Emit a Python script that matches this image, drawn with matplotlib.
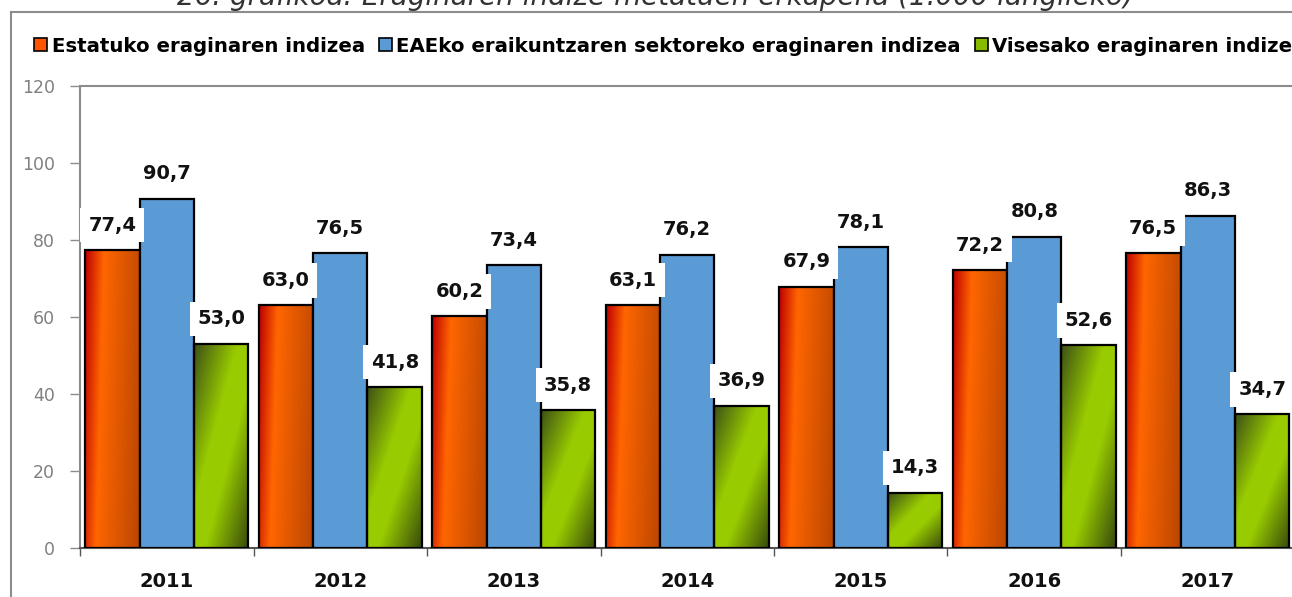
import numpy as np
import matplotlib
matplotlib.use("Agg")
import matplotlib.pyplot as plt
import matplotlib.patches as patches
from matplotlib.colors import LinearSegmentedColormap
from matplotlib.lines import Line2D

years = ["2011", "2012", "2013", "2014", "2015", "2016", "2017"]
estatuko = [77.4, 63.0, 60.2, 63.1, 67.9, 72.2, 76.5]
eaeko = [90.7, 76.5, 73.4, 76.2, 78.1, 80.8, 86.3]
visesako = [53.0, 41.8, 35.8, 36.9, 14.3, 52.6, 34.7]
series_names = ["Estatuko eraginaren indizea",
                "EAEko eraikuntzaren sektoreko eraginaren indizea",
                "Visesako eraginaren indizea"]
title = "26. grafikoa: Eraginaren indize metatuen erkapena (1.000 langileko)"

orange_cmap = LinearSegmentedColormap.from_list(
    "orange", [(0, "#C00000"), (0.3, "#FF6600"), (1, "#BA4600")])
green_cmap = LinearSegmentedColormap.from_list(
    "green", [(0, "#3E5116"), (0.4, "#99CC00"), (0.6, "#99CC00"), (1, "#384A0C")])
blue = "#5B9BD5"

W, H = 1292, 597
fig = plt.figure(figsize=(W / 100, H / 100), dpi=100)
ax = fig.add_axes([80 / W, 49 / H, 1214.5 / W, 462 / H])

x = np.arange(len(years))
bw = 0.314

# gradient images, built once in unit square
u = np.linspace(0, 1, 60)
v = np.linspace(0, 1, 120)
U, V = np.meshgrid(u, v)
orange_img = (U - 0.15 * V + 0.15) / 1.15
green_img = (U + (1 - V)) / 2

def gradient_bars(xs, vals, cmap, img):
    bars = ax.bar(xs, vals, bw, facecolor="none", edgecolor="black",
                  linewidth=1.6, zorder=3)
    for r in bars:
        x0, w, h = r.get_x(), r.get_width(), r.get_height()
        ax.imshow(img, cmap=cmap, vmin=0, vmax=1, origin="lower",
                  extent=[x0, x0 + w, 0, h], aspect="auto",
                  interpolation="bilinear", zorder=2)
    return bars

gradient_bars(x - bw, estatuko, orange_cmap, orange_img)
ax.bar(x, eaeko, bw, color=blue, edgecolor="black", linewidth=1.6, zorder=3)
gradient_bars(x + bw, visesako, green_cmap, green_img)

for xs, vals in [(x - bw, estatuko), (x, eaeko), (x + bw, visesako)]:
    for xi, val in zip(xs, vals):
        ax.annotate(f"{val:.1f}".replace(".", ","), (xi, val),
                    xytext=(0, 18), textcoords="offset points",
                    ha="center", va="center", fontsize=14,
                    fontweight="bold", color="#111111", zorder=5,
                    bbox=dict(boxstyle="square,pad=0.4", fc="white", ec="none"))

ax.set_xlim(-0.5, 6.5)
ax.set_ylim(0, 120)
ax.set_yticks(range(0, 121, 20))
ax.tick_params(axis="y", length=7, width=1, color="#8c8c8c",
               labelcolor="#808080", labelsize=12.5, pad=11)
ax.set_xticks(x)
ax.set_xticklabels(years, fontsize=14, fontweight="bold", color="#111111")
ax.tick_params(axis="x", which="major", length=0, pad=17)
ax.set_xticks(np.arange(-0.5, 7, 1), minor=True)
ax.tick_params(axis="x", which="minor", length=6, width=1, color="#555555")

for side in ["left", "top", "bottom"]:
    ax.spines[side].set_color("#8c8c8c")
    ax.spines[side].set_linewidth(1.5)
ax.spines["bottom"].set_color("#555555")
ax.spines["right"].set_visible(False)

# outer frame of the chart area
fig.add_artist(Line2D([11 / W, 11 / W], [0, 1 - 12 / H],
                      transform=fig.transFigure, color="#8c8c8c", lw=1.5))
fig.add_artist(Line2D([11 / W, 1], [1 - 12 / H, 1 - 12 / H],
                      transform=fig.transFigure, color="#8c8c8c", lw=1.5))

# title sits mostly above the picture, as in the source crop
fig.text(655 / W, 1 - 5 / H, title, ha="center", va="baseline",
         fontsize=20, fontstyle="italic", color="#333333")

handles = [patches.Patch(facecolor="#FF5500", edgecolor="black", lw=1.2),
           patches.Patch(facecolor=blue, edgecolor="black", lw=1.2),
           patches.Patch(facecolor="#88BB00", edgecolor="black", lw=1.2)]
fig.legend(handles, series_names, loc="center left",
           bbox_to_anchor=(34 / W, 1 - 46 / H), ncol=3, frameon=False,
           handlelength=0.65, handleheight=0.65, handletextpad=0.25,
           columnspacing=0.7, borderpad=0, borderaxespad=0,
           prop=dict(family=["Liberation Sans Narrow", "DejaVu Sans"],
                     weight="bold", size=14.2))

fig.savefig("out.png", dpi=100)
